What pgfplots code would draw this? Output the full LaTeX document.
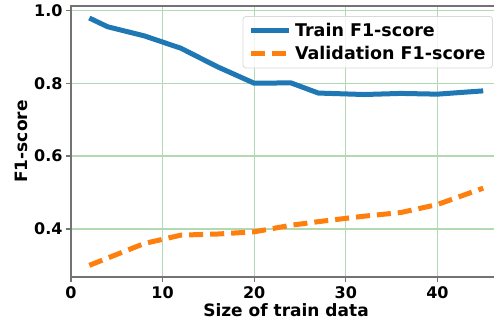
\documentclass[border=0pt]{standalone}
\usepackage{fontspec}
\setmainfont{DejaVu Sans}
\usepackage{pgfplots}
\pgfplotsset{compat=1.18}
\definecolor{mblue}{HTML}{1F77B4}
\definecolor{morange}{HTML}{FF7F0E}
\definecolor{gridgreen}{RGB}{179,217,179}
\begin{document}
\begin{tikzpicture}[x=1pt,y=1pt]
\useasboundingbox (-71,-45) rectangle (423,277);
\begin{axis}[
  at={(0,0)}, anchor=south west,
  scale only axis, width=430pt, height=271pt,
  xmin=0, xmax=46.94, ymin=0.268, ymax=1.012,
  xtick={0,10,20,30,40}, ytick={0.4,0.6,0.8,1.0},
  yticklabel style={/pgf/number format/fixed, /pgf/number format/fixed zerofill, /pgf/number format/precision=1},
  /pgf/number format/assume math mode=true,
  ticklabel style={font=\fontsize{16}{19}\selectfont\bfseries},
  xticklabel style={yshift=-1pt},
  grid=major, major grid style={gridgreen, line width=1.2pt},
  axis line style={black!55, line width=1.2pt},
  tick align=outside, tick pos=left, major tick length=5pt,
  tick style={black!55, line width=1.2pt},
  xlabel={Size of train data}, ylabel={F1-score},
  label style={font=\fontsize{17}{20}\selectfont\bfseries},
  xlabel style={at={(axis description cs:0.5,-0.1439)}, anchor=base},
  ylabel style={at={(axis description cs:-0.1023,0.5)}, anchor=base},
  legend style={at={(0.981,0.963)}, anchor=north east, draw=black!15, line width=0.8pt,
    fill=white, fill opacity=0.8, text opacity=1, rounded corners=3pt,
    font=\fontsize{17.5}{20}\selectfont\bfseries, row sep=4pt, column sep=2pt, inner xsep=5pt, inner ysep=5pt},
  legend cell align=left,
  legend image code/.code={\draw[#1] (0pt,0pt) -- (38pt,0pt);},
]
\addplot[mblue, line width=5pt, line join=round] coordinates {
(2,0.979) (4,0.955) (8,0.93) (12,0.896) (16,0.845) (20,0.800) (24,0.801) (27,0.773) (32,0.769) (36,0.772) (40,0.770) (45,0.779)};
\addlegendentry{Train F1-score}
\addplot[morange, line width=5pt, dash pattern=on 14pt off 7pt] coordinates {
(2,0.300) (4,0.320) (8,0.360) (12,0.383) (16,0.386) (20,0.392) (24,0.410) (27,0.420) (32,0.435) (36,0.445) (40,0.467) (45,0.512)};
\addlegendentry{Validation F1-score}
\end{axis}
\end{tikzpicture}
\end{document}
